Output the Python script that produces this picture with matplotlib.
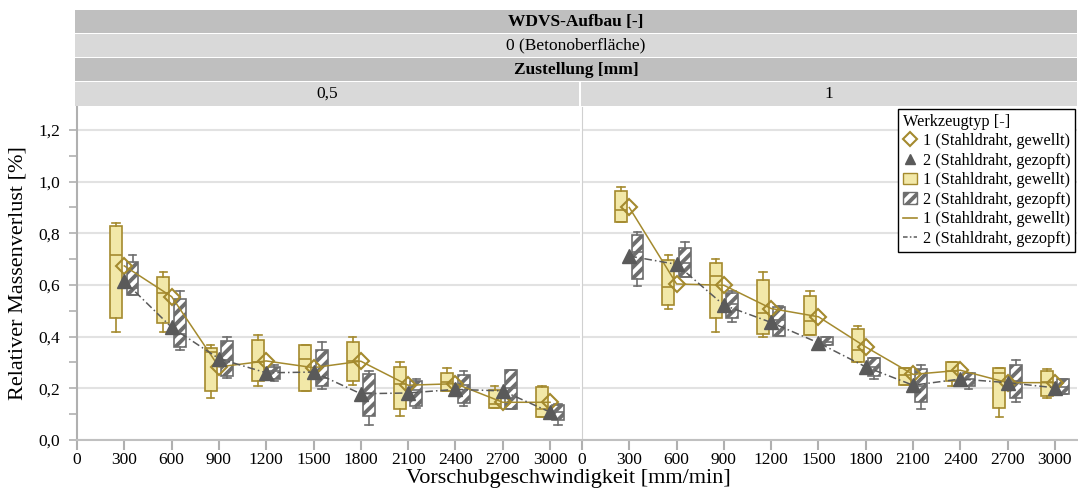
import matplotlib
matplotlib.use("Agg")
import matplotlib.pyplot as plt
from matplotlib.patches import Rectangle, Patch
from matplotlib.lines import Line2D

plt.rcParams['font.family'] = ['Liberation Serif', 'DejaVu Serif']
plt.rcParams['hatch.linewidth'] = 2.8

speeds = [300, 600, 900, 1200, 1500, 1800, 2100, 2400, 2700, 3000]

# Zustellung 0,5 - Werkzeugtyp 1
a1_lo = [0.417, 0.417, 0.161, 0.210, 0.190, 0.212, 0.091, 0.190, 0.122, 0.089]
a1_q1 = [0.472, 0.454, 0.190, 0.228, 0.190, 0.227, 0.121, 0.190, 0.122, 0.089]
a1_med = [0.717, 0.568, 0.341, 0.300, 0.315, 0.305, 0.217, 0.224, 0.140, 0.120]
a1_q3 = [0.830, 0.632, 0.358, 0.389, 0.366, 0.381, 0.282, 0.261, 0.192, 0.207]
a1_hi = [0.840, 0.650, 0.368, 0.407, 0.368, 0.400, 0.300, 0.278, 0.209, 0.209]
a1_mean = [0.674, 0.555, 0.283, 0.306, 0.280, 0.305, 0.212, 0.218, 0.146, 0.146]

# Zustellung 0,5 - Werkzeugtyp 2
a2_lo = [0.561, 0.350, 0.239, 0.228, 0.197, 0.057, 0.122, 0.130, 0.121, 0.057]
a2_q1 = [0.561, 0.360, 0.247, 0.238, 0.208, 0.092, 0.131, 0.143, 0.121, 0.076]
a2_med = [0.590, 0.410, 0.309, 0.266, 0.240, 0.183, 0.192, 0.212, 0.200, 0.108]
a2_q3 = [0.690, 0.544, 0.384, 0.283, 0.348, 0.256, 0.230, 0.253, 0.270, 0.135]
a2_hi = [0.717, 0.578, 0.400, 0.290, 0.381, 0.267, 0.236, 0.269, 0.270, 0.138]
a2_mean = [0.615, 0.436, 0.315, 0.260, 0.263, 0.179, 0.182, 0.196, 0.190, 0.108]

# Zustellung 1 - Werkzeugtyp 1
b1_lo = [0.843, 0.507, 0.417, 0.398, 0.408, 0.302, 0.212, 0.210, 0.089, 0.161]
b1_q1 = [0.843, 0.521, 0.471, 0.412, 0.408, 0.302, 0.214, 0.227, 0.125, 0.169]
b1_med = [0.891, 0.593, 0.636, 0.492, 0.461, 0.350, 0.250, 0.267, 0.259, 0.224]
b1_q3 = [0.964, 0.697, 0.687, 0.619, 0.557, 0.429, 0.278, 0.301, 0.278, 0.269]
b1_hi = [0.978, 0.718, 0.700, 0.650, 0.578, 0.441, 0.278, 0.301, 0.278, 0.276]
b1_mean = [0.900, 0.604, 0.599, 0.509, 0.477, 0.360, 0.254, 0.270, 0.222, 0.222]

# Zustellung 1 - Werkzeugtyp 2
b2_lo = [0.596, 0.630, 0.457, 0.402, 0.367, 0.236, 0.121, 0.199, 0.148, 0.177]
b2_q1 = [0.623, 0.630, 0.471, 0.402, 0.367, 0.247, 0.146, 0.210, 0.164, 0.177]
b2_med = [0.728, 0.684, 0.526, 0.464, 0.380, 0.283, 0.210, 0.235, 0.230, 0.205]
b2_q3 = [0.794, 0.745, 0.568, 0.513, 0.397, 0.319, 0.276, 0.259, 0.290, 0.236]
b2_hi = [0.807, 0.767, 0.578, 0.520, 0.397, 0.319, 0.290, 0.259, 0.309, 0.236]
b2_mean = [0.712, 0.680, 0.522, 0.455, 0.376, 0.283, 0.212, 0.236, 0.222, 0.202]

gold = '#a48a2e'
yellow = '#f2e8a8'
dgray = '#5a5a5a'
hgray = '#6e6e6e'

W, H = 1078, 492
fig = plt.figure(figsize=(W / 100, H / 100), dpi=100)


def fx(px):
    return px / W


def fy(py):
    return 1 - py / H


def make_stats(lo, q1, med, q3, hi):
    return [dict(whislo=a, q1=b, med=c, q3=d, whishi=e, fliers=[])
            for a, b, c, d, e in zip(lo, q1, med, q3, hi)]


def draw_panel(ax, t1, t2, m1, m2):
    pos1 = [s - 52 for s in speeds]
    pos2 = [s + 52 for s in speeds]
    ax.bxp(make_stats(*t1), positions=pos1, widths=76, capwidths=48,
           patch_artist=True, showfliers=False, manage_ticks=False,
           boxprops=dict(facecolor=yellow, edgecolor=gold, linewidth=1.2),
           medianprops=dict(color=gold, linewidth=1.2),
           whiskerprops=dict(color=gold, linewidth=1.2),
           capprops=dict(color=gold, linewidth=1.2), zorder=2)
    ax.bxp(make_stats(*t2), positions=pos2, widths=76, capwidths=48,
           patch_artist=True, showfliers=False, manage_ticks=False,
           boxprops=dict(facecolor='white', edgecolor=hgray, hatch='///', linewidth=1.2),
           medianprops=dict(color=hgray, linewidth=1.2),
           whiskerprops=dict(color=hgray, linewidth=1.2),
           capprops=dict(color=hgray, linewidth=1.2), zorder=2)
    ax.plot(speeds, m1, color=gold, lw=1.1, ls='-', marker='D', ms=8.5,
            mfc='none', mec=gold, mew=1.5, zorder=4)
    ax.plot(speeds, m2, color=dgray, lw=1.1, ls=(0, (5, 2, 1, 2)), marker='^', ms=9.5,
            mfc=dgray, mec=dgray, zorder=4)
    ax.set_ylim(0, 1.289)
    ax.set_yticks([0, 0.2, 0.4, 0.6, 0.8, 1.0, 1.2])
    ax.set_xticks([0] + speeds)
    ax.set_xticklabels(['0'] + [str(s) for s in speeds], fontsize=12.5)
    ax.grid(axis='y', color='#e2e2e2', lw=1.5, zorder=0)
    ax.set_axisbelow(True)
    for sp in ['top', 'right']:
        ax.spines[sp].set_visible(False)
    ax.spines['bottom'].set_color('#c0c0c0')
    ax.spines['left'].set_color('#d0d0d0')
    ax.spines['bottom'].set_linewidth(1.5)
    ax.tick_params(axis='x', colors='#b0b0b0', labelcolor='black', length=7, width=1.5, pad=2)


ax1 = fig.add_axes([fx(77), fy(440), fx(580 - 77), fy(107) - fy(440)])
ax2 = fig.add_axes([fx(582), fy(440), fx(1077 - 582), fy(107) - fy(440)])

draw_panel(ax1, (a1_lo, a1_q1, a1_med, a1_q3, a1_hi), (a2_lo, a2_q1, a2_med, a2_q3, a2_hi), a1_mean, a2_mean)
draw_panel(ax2, (b1_lo, b1_q1, b1_med, b1_q3, b1_hi), (b2_lo, b2_q1, b2_med, b2_q3, b2_hi), b1_mean, b2_mean)

ax1.set_xlim(0, 3190)
ax2.set_xlim(0, 3140)

ax1.set_yticks([0.1, 0.3, 0.5, 0.7, 0.9, 1.1], minor=True)
ax1.set_yticklabels(['0,0', '0,2', '0,4', '0,6', '0,8', '1,0', '1,2'], fontsize=12.5)
ax1.tick_params(axis='y', which='both', colors='#b0b0b0', labelcolor='black', length=6, width=1.2, pad=6)
ax1.spines['left'].set_color('#b0b0b0')
ax1.spines['left'].set_linewidth(1.5)
ax1.set_ylabel('Relativer Massenverlust [%]', fontsize=16, labelpad=8)

ax2.tick_params(axis='y', left=False, labelleft=False)

fig.text(fx(568), fy(478), 'Vorschubgeschwindigkeit [mm/min]', fontsize=16,
         ha='center', va='center')

# header strips
dark = '#bfbfbf'
light = '#d9d9d9'
bands = [
    (10, 33, dark, [(75, 1077, 'WDVS-Aufbau [-]')], 'bold'),
    (34, 57, light, [(75, 1077, '0 (Betonoberfläche)')], 'normal'),
    (58, 81, dark, [(75, 1077, 'Zustellung [mm]')], 'bold'),
    (82, 106, light, [(75, 579, '0,5'), (581, 1077, '1')], 'normal'),
]
for top, bot, col, cells, weight in bands:
    for x0, x1, label in cells:
        fig.add_artist(Rectangle((fx(x0), fy(bot)), fx(x1 - x0), fy(top) - fy(bot),
                                 transform=fig.transFigure, facecolor=col,
                                 edgecolor='none'))
        fig.text(fx((x0 + x1) / 2), fy((top + bot) / 2), label, ha='center',
                 va='center', fontsize=12.5, fontweight=weight)

handles = [
    Line2D([], [], ls='none', marker='D', ms=7, mfc='none', mec=gold, mew=1.5),
    Line2D([], [], ls='none', marker='^', ms=7, mfc=dgray, mec=dgray),
    Patch(facecolor=yellow, edgecolor=gold),
    Patch(facecolor='white', edgecolor=hgray, hatch='///'),
    Line2D([], [], color=gold, lw=1.2),
    Line2D([], [], color=dgray, lw=1.1, ls=(0, (3, 1.5, 1, 1.5))),
]
labels = ['1 (Stahldraht, gewellt)', '2 (Stahldraht, gezopft)'] * 3
leg = ax2.legend(handles, labels, title='Werkzeugtyp [-]', loc='upper right',
                 bbox_to_anchor=(1.0, 1.0), fontsize=11.7, title_fontsize=11.7,
                 frameon=True, fancybox=False, edgecolor='black', framealpha=1,
                 handlelength=0.9, handleheight=0.7, handletextpad=0.35,
                 labelspacing=0.22, borderpad=0.3, borderaxespad=0.1)
leg._legend_box.align = 'left'
leg.get_frame().set_linewidth(1.0)
leg.set_zorder(10)

fig.savefig('out.png', dpi=100)
